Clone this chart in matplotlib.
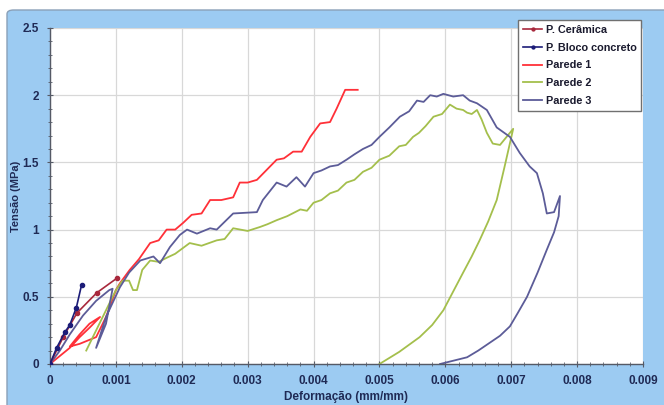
import numpy as np
import matplotlib
matplotlib.use('Agg')
import matplotlib.pyplot as plt
from matplotlib.patches import FancyBboxPatch

# P. Ceramica (prism, with markers)
cer_x = [0, 0.0002, 0.00041, 0.00071, 0.00102]
cer_y = [0, 0.20, 0.38, 0.53, 0.64]

# P. Bloco concreto (prism, with markers)
blo_x = [0, 0.0001, 0.00023, 0.0003, 0.0004, 0.00048]
blo_y = [0, 0.12, 0.24, 0.29, 0.42, 0.59]

# Parede 1
p1_x = [0, 0.00015, 0.0003, 0.00045, 0.0006, 0.00076, 0.0006, 0.00045, 0.0003,
        0.00045, 0.0006, 0.0007, 0.00085, 0.001, 0.00106, 0.00121, 0.00135,
        0.00152, 0.00165, 0.00177, 0.0019, 0.00202, 0.00215, 0.0023, 0.00243,
        0.0026, 0.00278, 0.00288, 0.003, 0.00314, 0.0033, 0.00344, 0.00355,
        0.00369, 0.00382, 0.00395, 0.0041, 0.00425, 0.00435, 0.00448, 0.00467]
p1_y = [0, 0.06, 0.12, 0.2, 0.27, 0.35, 0.3, 0.22, 0.13,
        0.15, 0.18, 0.2, 0.35, 0.55, 0.6, 0.7, 0.78,
        0.9, 0.92, 1.0, 1.0, 1.05, 1.11, 1.12, 1.22,
        1.22, 1.24, 1.35, 1.35, 1.37, 1.45, 1.52, 1.53,
        1.58, 1.58, 1.69, 1.79, 1.8, 1.9, 2.04, 2.04]

# Parede 2
p2_x = [0.00055, 0.0007, 0.00085, 0.001, 0.0011, 0.0012, 0.00126, 0.00132,
        0.0014, 0.00152, 0.00165, 0.00177, 0.0019, 0.00212, 0.0023, 0.00253,
        0.00265, 0.00278, 0.003, 0.00319, 0.0033, 0.00344, 0.0036, 0.0038,
        0.0039, 0.004, 0.00412, 0.00425, 0.00437, 0.0045, 0.00462, 0.00475,
        0.00488, 0.005, 0.00515, 0.0053, 0.0054, 0.00551, 0.0056, 0.0057,
        0.00582, 0.00595, 0.00607, 0.00617, 0.00627, 0.00633, 0.0064, 0.00648,
        0.00655, 0.00663, 0.00672, 0.00683, 0.00693, 0.00703, 0.0069, 0.00678,
        0.00665, 0.00652, 0.0064, 0.00627, 0.00612, 0.00597, 0.0058, 0.00561,
        0.0053, 0.005]
p2_y = [0.1, 0.25, 0.4, 0.55, 0.62, 0.62, 0.55, 0.55,
        0.7, 0.77, 0.76, 0.79, 0.82, 0.9, 0.88, 0.92,
        0.93, 1.01, 0.99, 1.02, 1.04, 1.07, 1.1, 1.15,
        1.14, 1.2, 1.22, 1.27, 1.29, 1.35, 1.37, 1.43,
        1.46, 1.52, 1.55, 1.62, 1.63, 1.69, 1.72, 1.77,
        1.84, 1.86, 1.93, 1.9, 1.89, 1.87, 1.86, 1.89,
        1.82, 1.72, 1.64, 1.63, 1.69, 1.75, 1.47, 1.22,
        1.06, 0.92, 0.8, 0.68, 0.54, 0.4, 0.29, 0.2,
        0.09, 0.0]

# Parede 3
p3_x = [0, 0.00015, 0.0003, 0.0005, 0.0007, 0.0009, 0.00095, 0.00085, 0.0007,
        0.00085, 0.00106, 0.0012, 0.00137, 0.00157, 0.00167, 0.00182, 0.00197,
        0.00208, 0.00223, 0.00243, 0.00253, 0.00278, 0.00314, 0.00323, 0.00344,
        0.00359, 0.00374, 0.00387, 0.004, 0.00412, 0.00425, 0.00437, 0.0045,
        0.00462, 0.00475, 0.00488, 0.005, 0.00515, 0.00531, 0.00545, 0.00557,
        0.00567, 0.00577, 0.00587, 0.00597, 0.00612, 0.00627, 0.00637, 0.00648,
        0.00663, 0.00678, 0.00698, 0.00713, 0.00728, 0.00739, 0.00748, 0.00754,
        0.00765, 0.00774, 0.00772, 0.00765, 0.00754, 0.0074, 0.00724, 0.0071,
        0.00698, 0.00683, 0.00668, 0.0065, 0.00633, 0.00592]
p3_y = [0, 0.1, 0.22, 0.36, 0.47, 0.55, 0.56, 0.3, 0.12,
        0.35, 0.57, 0.68, 0.77, 0.8, 0.75, 0.87, 0.96,
        1.0, 0.97, 1.01, 1.0, 1.12, 1.13, 1.22, 1.35,
        1.32, 1.39, 1.32, 1.42, 1.44, 1.47, 1.48, 1.52,
        1.56, 1.6, 1.63, 1.69, 1.76, 1.84, 1.88, 1.96,
        1.95, 2.0, 1.99, 2.01, 1.99, 2.0, 1.96, 1.94,
        1.89, 1.76, 1.69, 1.57, 1.47, 1.42, 1.27, 1.12,
        1.13, 1.25, 1.1, 0.98, 0.85, 0.68, 0.5, 0.38,
        0.28, 0.21, 0.16, 0.1, 0.05, 0.0]

tick_col = '#1f2a55'
font = 'Liberation Sans'
fig = plt.figure(figsize=(6.64, 4.05), dpi=100, facecolor='white')
fig.patches.append(FancyBboxPatch((7 / 664, -0.05), 1.0, 1 - 10 / 405 + 0.05,
                                  boxstyle='round,pad=0,rounding_size=0.01',
                                  transform=fig.transFigure, facecolor='#9ccbf2',
                                  edgecolor='#8aa0b8', linewidth=1.0, zorder=-10))

ax = fig.add_axes([50 / 664, 1 - 364 / 405, (643 - 50) / 664, (364 - 28) / 405])
ax.set_facecolor('white')

ax.plot(cer_x, cer_y, color='#a8283c', marker='o', markersize=3, lw=1.2,
        label='P. Cerâmica', zorder=5)
ax.plot(blo_x, blo_y, color='#1c1c78', marker='o', markersize=3, lw=1.2,
        label='P. Bloco concreto', zorder=5)
ax.plot(p1_x, p1_y, color='#ff3038', lw=1.3, label='Parede 1')
ax.plot(p2_x, p2_y, color='#a4bf4c', lw=1.3, label='Parede 2')
ax.plot(p3_x, p3_y, color='#5c5c98', lw=1.3, label='Parede 3')

ax.set_xlim(0, 0.009)
ax.set_ylim(0, 2.5)
ax.set_xticks(np.arange(0, 0.0091, 0.001))
ax.set_xticklabels(['0'] + ['%.3f' % v for v in np.arange(0.001, 0.0091, 0.001)])
ax.set_yticks([0, 0.5, 1, 1.5, 2, 2.5])
ax.set_yticklabels(['0', '0.5', '1', '1.5', '2', '2.5'])
ax.set_xticks(np.arange(0, 0.009, 0.0002), minor=True)
ax.set_yticks(np.arange(0, 2.5, 0.1), minor=True)
ax.grid(True, which='major', color='#d8d8d8', lw=0.9)
ax.set_axisbelow(True)
for s in ['top', 'right']:
    ax.spines[s].set_visible(False)
for s in ['left', 'bottom']:
    ax.spines[s].set_color('#555a66')
    ax.spines[s].set_linewidth(1.0)
ax.tick_params(which='major', direction='inout', length=4, color='#555a66',
               labelsize=8.5, labelcolor=tick_col, pad=6)
ax.tick_params(which='minor', direction='inout', length=2.5, color='#555a66')
for lab in ax.get_xticklabels() + ax.get_yticklabels():
    lab.set_fontweight('bold')
    lab.set_fontfamily(font)

ax.set_xlabel('Deformação (mm/mm)', fontsize=8.5, fontweight='bold', color=tick_col,
              family=font, labelpad=3)
ax.set_ylabel('Tensão (MPa)', fontsize=8, fontweight='bold', color=tick_col,
              family=font, labelpad=1)

leg = ax.legend(loc='upper left', bbox_to_anchor=(518 / 664, 1 - 20 / 405),
                bbox_transform=fig.transFigure, fancybox=False, framealpha=1,
                edgecolor='#707070', handlelength=1.8, handletextpad=0.3,
                borderpad=0.45, labelspacing=0.72, markerscale=0.7,
                borderaxespad=0,
                prop={'family': font, 'weight': 'bold', 'size': 7.8})
for t in leg.get_texts():
    t.set_color('#1a1a2e')

fig.savefig('out.png', dpi=100, facecolor='white')
